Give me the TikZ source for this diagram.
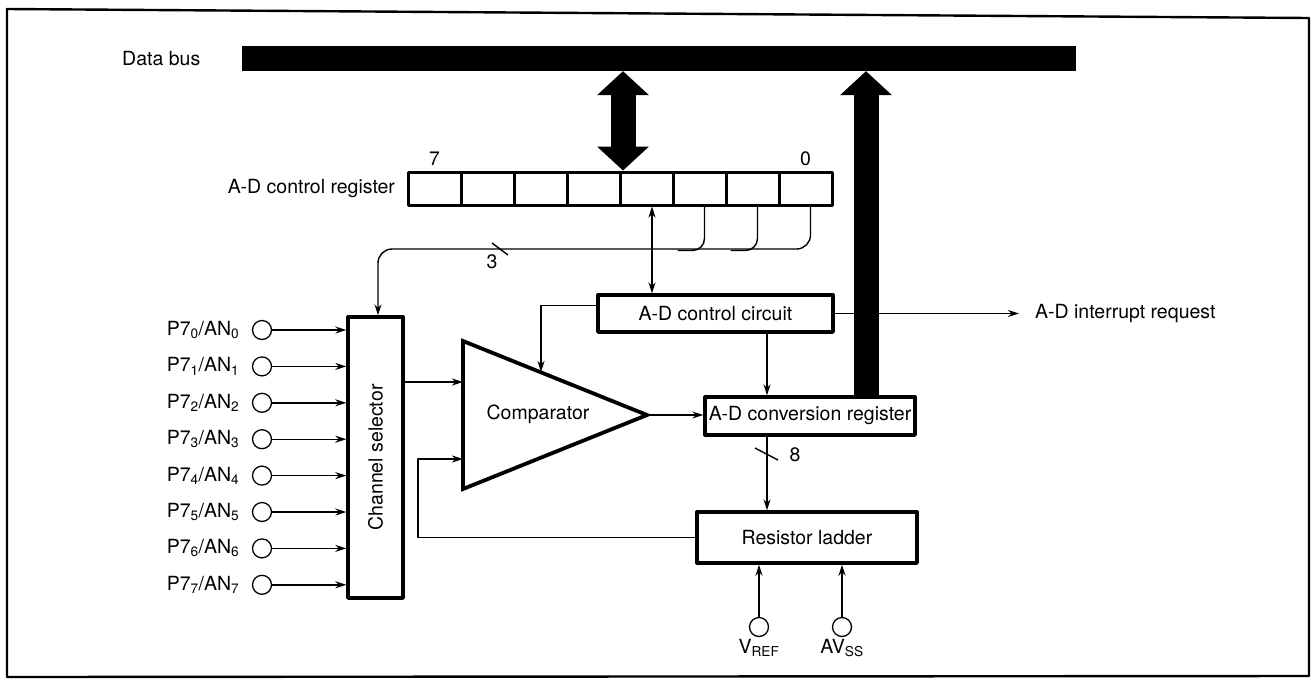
\documentclass[tikz,border=0pt]{standalone}
\usepackage{fontspec}
\setmainfont{TeX Gyre Heros}
\usetikzlibrary{arrows.meta,positioning,calc}
\tikzset{bushead/.tip={Triangle[length=24pt,width=52pt,line width=0pt]}}
\begin{document}
\begin{tikzpicture}[x=1pt, y=-1pt, font=\fontsize{19.5}{23}\selectfont, line join=round, >={Stealth[length=11pt,width=7pt,inset=3.5pt]},
  wire/.style={line width=1.4pt},
  blk/.style={draw, line width=3.4pt, inner sep=0pt},
  cell/.style={draw, line width=3pt, minimum width=53pt, minimum height=33pt, inner sep=0pt},
  port/.style={circle, draw, line width=1.3pt, minimum size=19pt, inner sep=0pt}]
  \useasboundingbox (0,0) rectangle (1312,681);
  \draw[line width=2.4pt] (7,9) -- (1309,18) -- (1309,676) -- (7,677) -- cycle;
  % data bus
  \node[fill, minimum width=834pt, minimum height=25pt, inner sep=0pt] (bus) at (659,58.5) {};
  \node[left=38pt of bus.west] (buslbl) {Data bus};
  % control register
  \foreach \k in {0,...,7} {
    \pgfmathtruncatemacro{\b}{7-\k}
    \node[cell] (b\b) at ({434.5+53*\k},188.5) {};
  }
  \node[left=8pt of b7] (reglbl) {A-D control register};
  \node[above=1pt of b7] (msb) {7};
  \node[above=1pt of b0] (lsb) {0};
  % blocks
  \node[blk, minimum width=235pt, minimum height=37pt] (ctl) at (715.5,313.5) {A-D control circuit};
  \node[blk, minimum width=210pt, minimum height=38pt] (conv) at (810,416) {A-D conversion register};
  \node[blk, minimum width=220pt, minimum height=51pt] (lad) at (807,537.5) {Resistor ladder};
  \node[blk, minimum width=55pt, minimum height=281pt] (sel) at (375.5,457.5) {\rotatebox{90}{Channel selector}};
  \node[anchor=west, inner sep=0pt] (irq) at (1035,313.5) {A-D interrupt request};
  % comparator
  \coordinate (cmpa) at (463,341);
  \coordinate (cmpb) at (463,489);
  \coordinate (cmpout) at (647,415);
  \coordinate (cmpin1) at (463,382);
  \coordinate (cmpin2) at (463,459);
  \coordinate (cmptop) at (541,372);
  \draw[line width=3.8pt, line join=miter] (cmpa) -- (cmpout) -- (cmpb) -- cycle;
  \node (cmp) at (538,414) {Comparator};
  % analog inputs
  \foreach \i in {0,...,7} {
    \node[port] (p\i) at (262,{330+36.4*\i}) {};
    \node[left=9pt of p\i] (pl\i) {P7\textsubscript{\i}/AN\textsubscript{\i}};
    \draw[wire,->] (p\i) -- (p\i -| sel.west);
  }
  \node[port] (vref) at (759,627) {};
  \node[below=1pt of vref, inner sep=1pt] (vrefl) {V\textsubscript{REF}};
  \node[port] (avss) at (842,627) {};
  \node[below=1pt of avss, inner sep=1pt] (avssl) {AV\textsubscript{SS}};
  \draw[wire,->] (vref) -- (vref |- lad.south);
  \draw[wire,->] (avss) -- (avss |- lad.south);
  % channel select bits
  \foreach \b in {2,1} \draw[wire, rounded corners=12pt] ($(b\b.south)+(5,0)$) |- ($(b\b.south)+(-22,44)$);
  \coordinate (bend) at (378,249);
  \draw[wire,->,rounded corners=14pt] ($(b0.south)+(5,0)$) |- (bend) -- (bend |- sel.north);
  \draw[wire] (492,243) -- (508,255);
  \node (n3) at (492,262) {3};
  % control paths
  \draw[wire,<->] ($(b3.south)+(5.5,0)$) -- ($(b3.south |- ctl.north)+(5.5,0)$);
  \draw[wire,->] ($(ctl.west)+(0,-8)$) -| (cmptop);
  \draw[wire,->,shorten >=16pt] (ctl.east) -- (irq.west);
  \coordinate (cx) at (767,0);
  \draw[wire,->] (ctl.south -| cx) -- (conv.north -| cx);
  \draw[wire,->] (conv.south -| cx) -- (lad.north -| cx);
  \draw[wire] (755,448) -- (778,460);
  \node (n8) at (795,455) {8};
  \draw[wire,->] (cmpin1 -| sel.east) -- (cmpin1);
  \draw[wire,->] (lad.west) -| ($(cmpin2)+(-45,0)$) -- (cmpin2);
  \draw[wire,->] (cmpout) -- (cmpout -| conv.west);
  % bus arrows
  \coordinate (dx) at (623,0);
  \coordinate (ux) at (866,0);
  \draw[line width=25pt, bushead-bushead] (bus.south -| dx) -- (b3.north -| dx);
  \draw[line width=25pt, -bushead] (conv.north -| ux) -- (bus.south -| ux);
\end{tikzpicture}
\end{document}
